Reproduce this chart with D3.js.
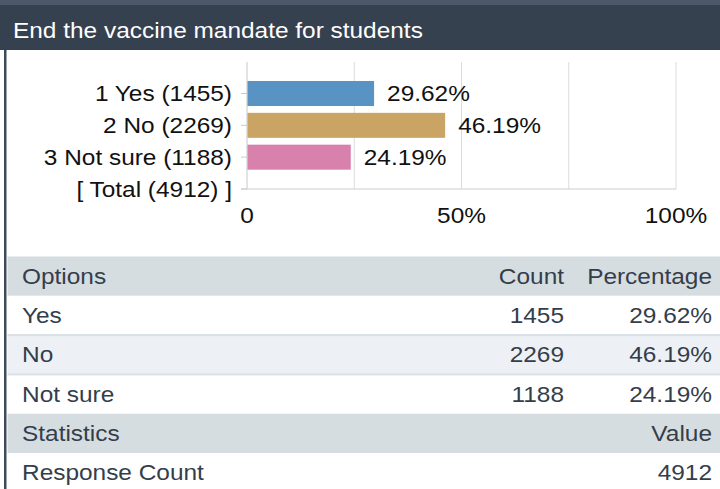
<!DOCTYPE html>
<html>
<head>
<meta charset="utf-8">
<script src="https://cdn.jsdelivr.net/npm/d3@7"></script>
<style>
  html, body { margin: 0; padding: 0; background: #ffffff; }
  svg { display: block; font-family: "Liberation Sans", Arial, sans-serif; }
</style>
</head>
<body>
<svg id="chart" width="720" height="489"></svg>
<script>
// ---- data ----
const title = "End the vaccine mandate for students";
const categories = ["1 Yes (1455)", "2 No (2269)", "3 Not sure (1188)", "[ Total (4912) ]"];
const options = ["Yes", "No", "Not sure"];
const counts = [1455, 2269, 1188];
const percents = [29.62, 46.19, 24.19];
const totalCount = 4912;
const barColors = ["#5893c3", "#c9a464", "#d881ad"];
const xTickValues = [0, 25, 50, 75, 100];
const xTickLabels = ["0", "", "50%", "", "100%"];
const tableHeader = ["Options", "Count", "Percentage"];
const statsHeader = ["Statistics", "Value"];
const statsRows = [["Response Count", totalCount]];

// ---- setup ----
const SX = 1.11; // horizontal stretch of glyphs in the reference
const FS = 22;
const svg = d3.select("#chart");
const W = 720, H = 489;

function txt(parent, x, y, s, anchor, fill, size) {
  return parent.append("text")
    .attr("transform", `translate(${x},${y}) scale(${SX},1)`)
    .attr("text-anchor", anchor || "start")
    .attr("dy", "0.35em")
    .attr("fill", fill || "#111")
    .attr("font-size", (size || FS) + "px")
    .text(s);
}

// background + frame
svg.append("rect").attr("x", 0).attr("y", 0).attr("width", W).attr("height", H).attr("fill", "#fff");
svg.append("rect").attr("x", 0).attr("y", 0).attr("width", W).attr("height", 5).attr("fill", "#4d5968");
svg.append("rect").attr("x", 0).attr("y", 5).attr("width", W).attr("height", 45).attr("fill", "#36414f");
svg.append("rect").attr("x", 4).attr("y", 50).attr("width", 2.5).attr("height", H - 50).attr("fill", "#404b5a");
txt(svg, 13, 30, title, "start", "#ffffff", FS);

// ---- bar chart ----
const x = d3.scaleLinear().domain([0, 100]).range([247, 676]);
const y = d3.scalePoint().domain(categories).range([93.5, 189]);
const gridTop = 62, gridBottom = 189;
const barH = 25;

const g = svg.append("g");
// gridlines
g.selectAll("line.grid").data(xTickValues).join("line")
  .attr("class", "grid")
  .attr("x1", d => x(d)).attr("x2", d => x(d))
  .attr("y1", gridTop).attr("y2", gridBottom)
  .attr("stroke", d => d === 0 ? "#c8c8c8" : "#dcdcdc").attr("stroke-width", 1);
// bottom axis line
g.append("line").attr("x1", x(0) - 6).attr("x2", x(100)).attr("y1", gridBottom).attr("y2", gridBottom)
  .attr("stroke", "#cccccc").attr("stroke-width", 1);
// category ticks
g.selectAll("line.ytick").data(categories).join("line")
  .attr("class", "ytick")
  .attr("x1", x(0) - 6).attr("x2", x(0))
  .attr("y1", d => y(d)).attr("y2", d => y(d))
  .attr("stroke", "#cccccc");
// category labels
categories.forEach(c => txt(g, 232, y(c), c, "end", "#111", FS));
// x tick labels
xTickValues.forEach((v, i) => { if (xTickLabels[i]) txt(g, x(v), 215, xTickLabels[i], "middle", "#111", FS); });
// bars
const barData = options.map((o, i) => ({ cat: categories[i], pct: percents[i], color: barColors[i] }));
g.selectAll("rect.bar").data(barData).join("rect")
  .attr("class", "bar")
  .attr("x", x(0) + 0.5)
  .attr("y", d => y(d.cat) - barH / 2)
  .attr("width", d => x(d.pct) - x(0) - 0.5)
  .attr("height", barH)
  .attr("fill", d => d.color);
// value labels
barData.forEach(d => txt(g, x(d.pct) + 13, y(d.cat), d.pct.toFixed(2) + "%", "start", "#111", FS));

// ---- table ----
const rowH = 39.3;
const tTop = 256.5;
const tLeft = 7.5;
const colX = { left: 22, count: 564, pct: 712 };
const tableColor = "#343e4b";
const hdrBg = "#d6dde1";
const altBg = "#edf1f5";
const sepColor = "#d9e0e6";

const rows = [];
rows.push({ type: "head", cells: tableHeader });
options.forEach((o, i) => rows.push({ type: "data", i, cells: [o, String(counts[i]), percents[i].toFixed(2) + "%"] }));
rows.push({ type: "head2", cells: statsHeader });
statsRows.forEach(r => rows.push({ type: "stat", cells: [r[0], String(r[1])] }));

const tg = svg.append("g");
rows.forEach((r, k) => {
  const y0 = tTop + k * rowH;
  let bg = "#ffffff";
  if (r.type === "head" || r.type === "head2") bg = hdrBg;
  else if (r.type === "data" && r.i % 2 === 1) bg = altBg;
  tg.append("rect").attr("x", tLeft).attr("y", y0).attr("width", W - tLeft).attr("height", rowH).attr("fill", bg);
  if (r.type === "data" && r.i > 0) {
    tg.append("rect").attr("x", tLeft).attr("y", y0 - 1).attr("width", W - tLeft).attr("height", 2).attr("fill", sepColor);
  }
  const cy = y0 + rowH / 2;
  txt(tg, colX.left, cy, r.cells[0], "start", tableColor, FS);
  if (r.cells.length === 3) {
    txt(tg, colX.count, cy, r.cells[1], "end", tableColor, FS);
    txt(tg, colX.pct, cy, r.cells[2], "end", tableColor, FS);
  } else {
    txt(tg, colX.pct, cy, r.cells[1], "end", tableColor, FS);
  }
});
</script>
</body>
</html>
